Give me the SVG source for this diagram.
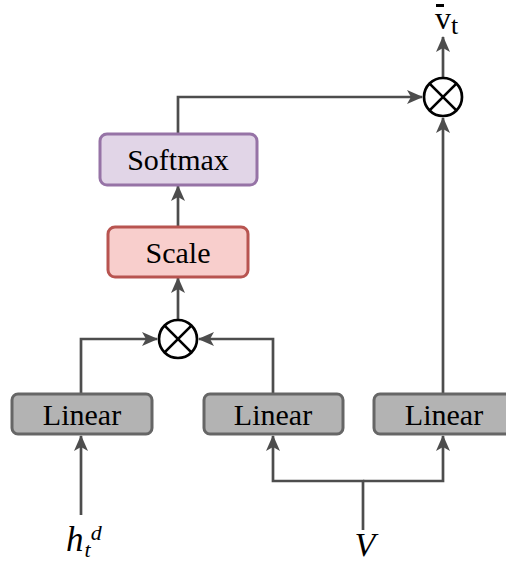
<svg xmlns="http://www.w3.org/2000/svg" width="506" height="563" viewBox="0 0 506 563">
  <defs>
    <marker id="arrow" viewBox="0 0 16 14" refX="15" refY="7" markerWidth="16" markerHeight="14" markerUnits="userSpaceOnUse" orient="auto">
      <path d="M0,0 L16,7 L0,14 L4,7 Z" fill="#4d4d4d"/>
    </marker>
    <style>
      .edge { fill: none; stroke: #4d4d4d; stroke-width: 2.7; }
      .box { stroke-width: 3; }
      .linear { fill: #b3b3b3; stroke: #666666; }
      .softmax { fill: #e1d5e7; stroke: #9673a6; }
      .scale { fill: #f8cecc; stroke: #b85450; }
      text { font-family: "Liberation Serif", serif; fill: #000; }
      .label { font-size: 30px; text-anchor: middle; }
      .math { font-style: italic; }
      .op { fill: #fff; stroke: #000; stroke-width: 2.7; }
    </style>
  </defs>

  <!-- connectors -->
  <g id="edges">
    <path class="edge" d="M81,515 L81,436" marker-end="url(#arrow)"/>
    <path class="edge" d="M363,530 L363,481 L273,481 L273,436" marker-end="url(#arrow)"/>
    <path class="edge" d="M363,481 L443,481 L443,436" marker-end="url(#arrow)"/>
    <path class="edge" d="M81,393 L81,339 L157,339" marker-end="url(#arrow)"/>
    <path class="edge" d="M273,393 L273,339 L199,339" marker-end="url(#arrow)"/>
    <path class="edge" d="M178,319 L178,278" marker-end="url(#arrow)"/>
    <path class="edge" d="M178,226 L178,186" marker-end="url(#arrow)"/>
    <path class="edge" d="M178,133 L178,97 L422,97" marker-end="url(#arrow)"/>
    <path class="edge" d="M443,393 L443,118" marker-end="url(#arrow)"/>
    <path class="edge" d="M443,77 L443,37" marker-end="url(#arrow)"/>
  </g>

  <g id="linear-h">
    <rect class="box linear" x="12" y="394" width="140" height="40" rx="6"/>
    <text class="label" x="82" y="425">Linear</text>
  </g>
  <g id="linear-v1">
    <rect class="box linear" x="204" y="394" width="139" height="40" rx="6"/>
    <text class="label" x="273" y="425">Linear</text>
  </g>
  <g id="linear-v2">
    <rect class="box linear" x="374" y="394" width="140" height="40" rx="6"/>
    <text class="label" x="444" y="425">Linear</text>
  </g>

  <g id="mul-1">
    <circle class="op" cx="178" cy="339" r="19"/>
    <path class="op" d="M164.6,325.6 L191.4,352.4 M191.4,325.6 L164.6,352.4"/>
  </g>

  <g id="scale">
    <rect class="box scale" x="108" y="227" width="140" height="50" rx="7"/>
    <text class="label" x="178" y="263">Scale</text>
  </g>

  <g id="softmax">
    <rect class="box softmax" x="100" y="134" width="157" height="51" rx="7"/>
    <text class="label" x="178" y="170">Softmax</text>
  </g>

  <g id="mul-2">
    <circle class="op" cx="443" cy="97" r="19"/>
    <path class="op" d="M429.6,83.6 L456.4,110.4 M456.4,83.6 L429.6,110.4"/>
  </g>

  <g id="output">
    <text x="443" y="28.5" font-size="32" text-anchor="middle">v</text>
    <rect x="436" y="4" width="8" height="3" fill="#000"/>
    <text x="451" y="34" font-size="26">t</text>
  </g>

  <g id="input-h">
    <text class="math" x="66" y="551" font-size="35">h<tspan font-size="22" dx="1" dy="6">t</tspan><tspan font-size="22" dx="0" dy="-17">d</tspan></text>
  </g>

  <g id="input-v">
    <text class="math" x="365" y="556" font-size="34" text-anchor="middle">V</text>
  </g>
</svg>
